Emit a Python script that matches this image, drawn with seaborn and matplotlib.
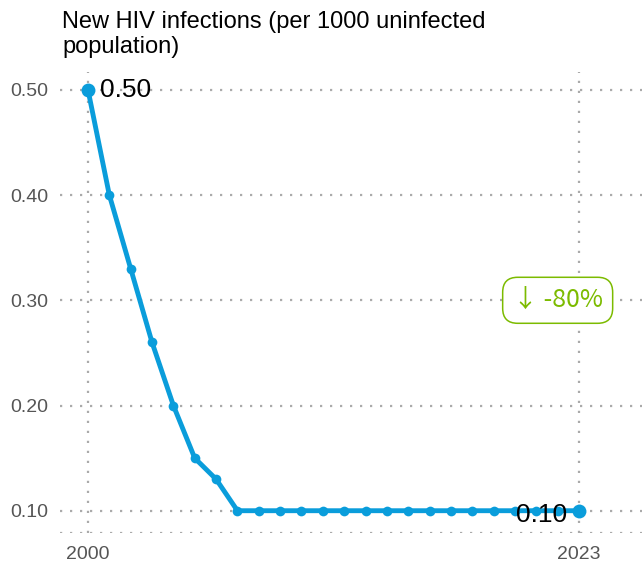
import matplotlib
matplotlib.use('Agg')
import matplotlib.pyplot as plt
import pandas as pd
import seaborn as sns

years = list(range(2000, 2024))
rate = [0.50, 0.40, 0.33, 0.26, 0.20, 0.15, 0.13] + [0.10] * 17
yticks = [0.10, 0.20, 0.30, 0.40, 0.50]
title = 'New HIV infections (per 1000 uninfected\npopulation)'
change = '↓ -80%'

df = pd.DataFrame({'year': years, 'rate': rate})

sns.set_style('white')
plt.rcParams['font.family'] = ['Liberation Sans', 'DejaVu Sans']

blue = '#0a9ddb'
green = '#7cbb00'
grid_kw = dict(color='#aaaaaa', linestyle=(0, (1, 3.5)), linewidth=1.6, zorder=0)

fig = plt.figure(figsize=(6.42, 5.65), dpi=100)
ax = fig.add_axes([0.0935, 0.0566, 0.9065, 0.816])

sns.lineplot(data=df, x='year', y='rate', color=blue, linewidth=3.5,
             marker='o', markersize=7, markeredgewidth=0, ax=ax, zorder=3)
ends = df.iloc[[0, -1]]
sns.scatterplot(data=ends, x='year', y='rate', color=blue, s=100,
                linewidth=0, ax=ax, zorder=4)

for y in yticks:
    ax.axhline(y, **grid_kw)
for x in [years[0], years[-1]]:
    ax.axvline(x, **grid_kw)
ax.axhline(0.0788, **grid_kw)

ax.text(years[0] + 0.56, rate[0], '%.2f' % rate[0], fontsize=19,
        ha='left', va='center', color='black', zorder=5)
ax.text(years[-1] - 0.56, rate[-1] - 0.004, '%.2f' % rate[-1], fontsize=19,
        ha='right', va='center', color='black', zorder=5)

ax.text(2022.0, 0.30, change, fontsize=18, color=green, ha='center', va='center',
        family=['Noto Sans CJK SC', 'DejaVu Sans'],
        bbox=dict(boxstyle='round,pad=0.4,rounding_size=0.6', fc='white',
                  ec=green, lw=1.1), zorder=6)

ax.set_xlim(1998.69, 2025.95)
ax.set_ylim(0.0788, 0.517)
ax.set_xticks([years[0], years[-1]])
ax.set_xticklabels([str(years[0]), str(years[-1])])
ax.set_yticks(yticks)
ax.set_yticklabels(['%.2f' % v for v in yticks])
ax.tick_params(axis='both', length=0, labelsize=14, labelcolor='#555555')
ax.tick_params(axis='y', pad=8.5)
ax.tick_params(axis='x', pad=9)
ax.set_xlabel('')
ax.set_ylabel('')
for s in ax.spines.values():
    s.set_visible(False)

fig.text(0.097, 0.981, title, fontsize=17, color='black', ha='left', va='top',
         linespacing=1.2)

fig.savefig('out.png', dpi=100)
